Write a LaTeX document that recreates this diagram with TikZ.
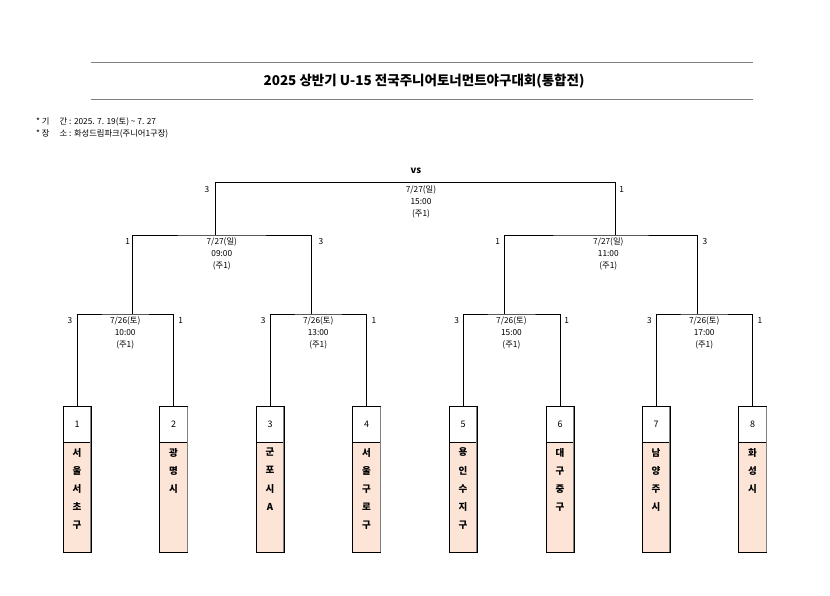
\documentclass[tikz,border=0pt]{standalone}
\usepackage{fontspec}
\setmainfont{Noto Sans CJK KR}
\usetikzlibrary{positioning}
\definecolor{peach}{HTML}{FCE4D6}
\definecolor{rulegray}{HTML}{7F7F7F}
\tikzset{
  % bracket lines and their texts
  bracket/.style  = {draw=black, line width=0.6pt},
  date/.style     = {font=\fontsize{8.3}{12}\selectfont, align=center, inner sep=0pt},
  score/.style    = {font=\fontsize{8.3}{9}\selectfont, inner sep=0pt},
  % team boxes
  numbox/.style   = {draw=black, fill=white, line width=0.6pt, minimum width=28pt,
                     minimum height=35.6pt, inner sep=0pt, outer sep=0pt,
                     font=\fontsize{9}{10}\selectfont},
  namebox/.style  = {draw=black, fill=peach, line width=0.6pt, minimum width=28pt,
                     minimum height=110pt, inner sep=0pt, outer sep=0pt},
  teamname/.style = {font=\bfseries\fontsize{9.5}{18.2}\selectfont, align=center, inner sep=0pt},
  info/.style     = {font=\fontsize{8.3}{9}\selectfont, inner sep=0pt, anchor=west},
  hrule/.style    = {rulegray, line width=1.6pt},
}

\begin{document}
\begin{tikzpicture}[x=1pt,y=-1pt]
\useasboundingbox (0,0) rectangle (830,595);
% header
\coordinate (r1a) at (90.7,62.5);
\coordinate (r1b) at (752.7,62.5);
\coordinate (r2a) at (90.7,99.5);
\coordinate (r2b) at (752.7,99.5);
\draw[hrule] (r1a) -- (r1b);
\draw[hrule] (r2a) -- (r2b);
\node[font=\bfseries\fontsize{13.5}{15}\selectfont] (title) at (424,81)
  {2025 상반기 U-15 전국주니어토너먼트야구대회(통합전)};
\node[info] (period) at (36,122) {* 기\quad\ 간 : 2025. 7. 19(토) \textasciitilde{} 7. 27};
\node[info] (place) at (36,133.5) {* 장\quad\ 소 : 화성드림파크(주니어1구장)};

% teams
\foreach \i/\x/\team in {1/77/{서\\울\\서\\초\\구}, 2/173.5/{광\\명\\시},
    3/270/{군\\포\\시\\A}, 4/366.5/{서\\울\\구\\로\\구}, 5/463/{용\\인\\수\\지\\구},
    6/560/{대\\구\\중\\구}, 7/656/{남\\양\\주\\시}, 8/752.5/{화\\성\\시}}{
  \node[numbox, anchor=north] (n\i) at (\x,406.7) {\i};
  \node[namebox, below=0pt of n\i] (t\i) {};
  \node[teamname, anchor=north] (l\i) at ([yshift=-5.5pt]t\i.north) {\team};
  \draw[gray, line width=1pt] ([xshift=-0.3pt]n\i.north east) -- ([xshift=-0.3pt]t\i.south east);
}

% quarter finals
\coordinate (q1) at (125.2,314);
\coordinate (q2) at (318.2,314);
\coordinate (q3) at (511.4,314);
\coordinate (q4) at (704.2,314);
\draw[bracket] (n1.north) |- (q1) -| (n2.north);
\draw[bracket] (n3.north) |- (q2) -| (n4.north);
\draw[bracket] (n5.north) |- (q3) -| (n6.north);
\draw[bracket] (n7.north) |- (q4) -| (n8.north);
\node[date, anchor=north] (dq1) at ([yshift=-2.5pt]q1) {7/26(토)\\10:00\\(주1)};
\node[date, anchor=north] (dq2) at ([yshift=-2.5pt]q2) {7/26(토)\\13:00\\(주1)};
\node[date, anchor=north] (dq3) at ([yshift=-2.5pt]q3) {7/26(토)\\15:00\\(주1)};
\node[date, anchor=north] (dq4) at ([yshift=-2.5pt]q4) {7/26(토)\\17:00\\(주1)};
\node[score] (sq1a) at (70,321) {3};
\node[score] (sq1b) at (180.7,321) {1};
\node[score] (sq2a) at (263.3,321) {3};
\node[score] (sq2b) at (374,321) {1};
\node[score] (sq3a) at (456.7,321) {3};
\node[score] (sq3b) at (566.7,321) {1};
\node[score] (sq4a) at (649.3,321) {3};
\node[score] (sq4b) at (760,321) {1};

% semi finals
\coordinate (s1) at (221.8,235);
\coordinate (s1a) at (132.3,314);
\coordinate (s1b) at (311.3,314);
\coordinate (s2) at (600.8,235);
\coordinate (s2a) at (504.3,314);
\coordinate (s2b) at (697.3,314);
\draw[bracket] (s1a) |- (s1) -| (s1b);
\draw[bracket] (s2a) |- (s2) -| (s2b);
\node[date, anchor=north] (ds1) at ([yshift=-2.5pt]s1) {7/27(일)\\09:00\\(주1)};
\node[date, anchor=north] (ds2) at ([xshift=7.5pt,yshift=-2.5pt]s2) {7/27(일)\\11:00\\(주1)};
\node[score] (ss1a) at (127.7,242) {1};
\node[score] (ss1b) at (321,242) {3};
\node[score] (ss2a) at (497.7,242) {1};
\node[score] (ss2b) at (705,242) {3};

% final
\coordinate (f) at (415,182.7);
\coordinate (fa) at (215,235);
\coordinate (fb) at (615,235);
\draw[bracket] (fa) |- (f) -| (fb);
\node[date, anchor=north] (df) at ([xshift=6pt,yshift=-2.5pt]f) {7/27(일)\\15:00\\(주1)};
\node[score] (sfa) at (207,190) {3};
\node[score] (sfb) at (621.7,190) {1};
\node[font=\bfseries\fontsize{9.5}{10}\selectfont] (vs) at (416,171) {vs};
\end{tikzpicture}
\end{document}
